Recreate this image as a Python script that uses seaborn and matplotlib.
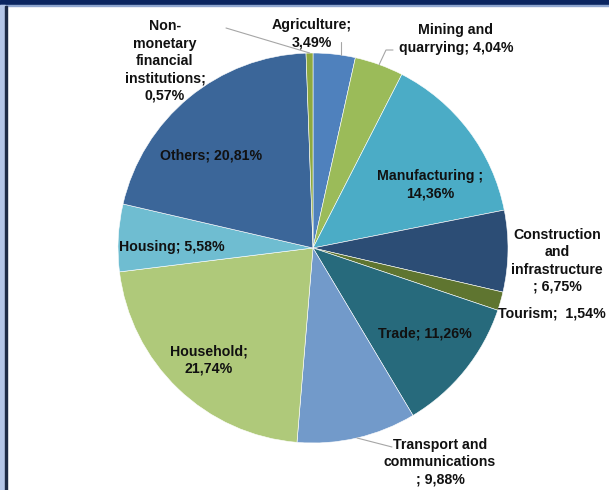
import numpy as np
import matplotlib
matplotlib.use("Agg")
import matplotlib.pyplot as plt
import seaborn as sns

sns.set_theme(style="white")
plt.rcParams['font.family'] = ['Liberation Sans Narrow', 'Liberation Sans', 'DejaVu Sans']

# Loan structure by sector (share, %)
sectors = ["Agriculture", "Mining and\nquarrying", "Manufacturing ", "Construction\nand\ninfrastructure\n",
           "Tourism", "Trade", "Transport and\ncommunications\n", "Household", "Housing", "Others",
           "Non-\nmonetary\nfinancial\ninstitutions"]
shares = [3.49, 4.04, 14.36, 6.75, 1.54, 11.26, 9.88, 21.74, 5.58, 20.81, 0.57]
colors = ["#4F81BD", "#9BBB59", "#4BACC6", "#2C4D75", "#5F7530", "#276A7C",
          "#729ACA", "#AFC97A", "#6FBDD1", "#3B6699", "#8EA93F"]

W, H, DPI = 609, 490, 100
CX, CY, R = 313, 248, 195  # pie centre and radius in pixels

fig = plt.figure(figsize=(W / DPI, H / DPI), dpi=DPI)
fig.patch.set_facecolor("white")
ax = fig.add_axes([0, 0, 1, 1])

wedges, _ = ax.pie(shares, colors=colors, startangle=90, counterclock=False,
                   radius=1.0, center=(0, 0),
                   wedgeprops=dict(edgecolor="white", linewidth=0.4))
ax.set_aspect("auto")
ax.set_xlim(-CX / R, (W - CX) / R)
ax.set_ylim(-(H - CY) / R, CY / R)
ax.axis("off")


def px(x, y):
    return (x - CX) / R, (CY - y) / R


def label_text(i):
    name = sectors[i]
    val = f"{shares[i]:.2f}".replace(".", ",") + "%"
    return name, val


# label layout: (pixel x, pixel y, format)
layout = {
    0: (312, 34, "{n};\n{v}"),
    1: (456, 39, "{n}; {v}"),
    2: (430, 185, "{n};\n{v}"),
    3: (557, 261, "{n}; {v}"),
    4: (552, 313, "{n};  {v}"),
    5: (425, 333, "{n}; {v}"),
    6: (440, 462, "{n}; {v}"),
    7: (209, 360, "{n};\n{v}"),
    8: (172, 247, "{n}; {v}"),
    9: (211, 156, "{n}; {v}"),
    10: (165, 61, "{n};\n{v}"),
}
for i, (x, y, fmt) in layout.items():
    n, v = label_text(i)
    ax.text(*px(x, y), fmt.format(n=n, v=v), ha="center", va="center",
            fontsize=10.2, fontweight="bold", color="#111111",
            linespacing=1.3)

# leader lines for labels outside the pie
cum = np.cumsum([0] + shares)
def edge_point(i, frac=0.5, r=1.0):
    pct = cum[i] + shares[i] * frac
    ang = np.deg2rad(90 - pct / 100 * 360)
    return r * np.cos(ang), r * np.sin(ang)

lc = "#A6A6A6"
ex, ey = edge_point(10)
x1, y1 = px(226, 28)
ax.plot([x1, ex], [y1, ey], color=lc, lw=0.8)
ex, ey = edge_point(0, 0.65)
ax.plot([ex, ex], [ey, px(0, 42)[1]], color=lc, lw=0.8)
ex, ey = edge_point(1)
ax.plot([ex, px(386, 0)[0], px(393, 0)[0]], [ey, px(0, 50)[1], px(0, 50)[1]], color=lc, lw=0.8)
ex, ey = edge_point(6)
x1, y1 = px(392, 447)
ax.plot([ex, x1], [ey, y1], color=lc, lw=0.8)

# slide frame: navy band on top, pale blue band with dark rule on the left
fig.patches.append(plt.Rectangle((0, 1 - 5 / H), 1, 5 / H, transform=fig.transFigure,
                                 color="#0B2560", zorder=5))
fig.patches.append(plt.Rectangle((0, 1 - 6 / H), 1, 1 / H, transform=fig.transFigure,
                                 color="#8FA6CF", zorder=5))
fig.patches.append(plt.Rectangle((0, 0), 5 / W, 1 - 5 / H, transform=fig.transFigure,
                                 color="#B4C6E7", zorder=5))
fig.patches.append(plt.Rectangle((5 / W, 0), 2 / W, 1 - 6 / H, transform=fig.transFigure,
                                 color="#1E2B45", zorder=5))

fig.savefig("out.png", dpi=DPI)
